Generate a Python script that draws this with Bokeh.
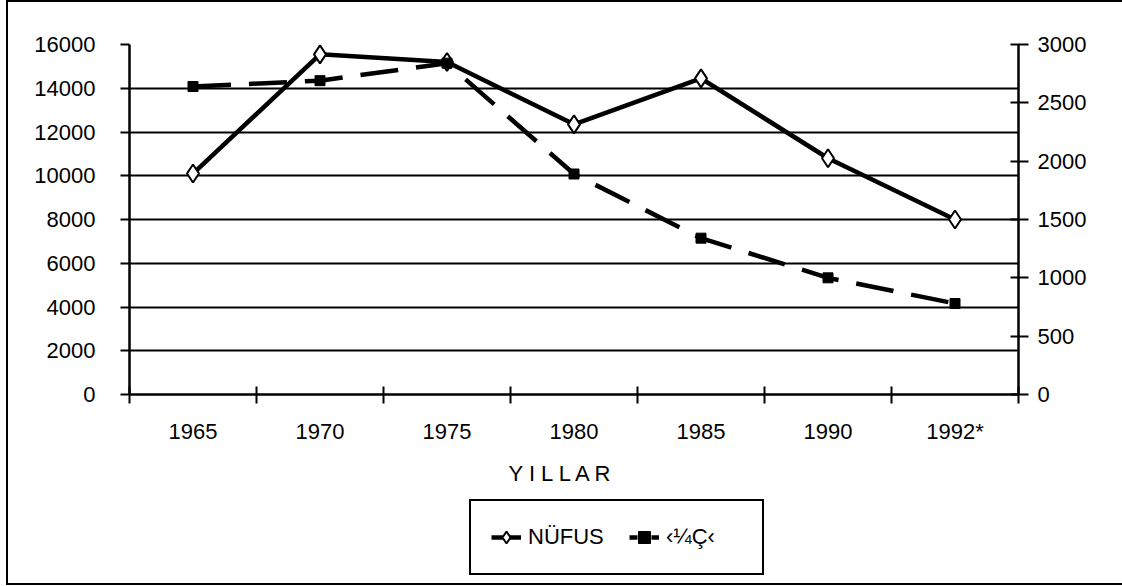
from bokeh.plotting import figure
from bokeh.layouts import column
from bokeh.models import (LinearAxis, Range1d, FixedTicker, Legend, LegendItem,
                          Title, Grid)
from bokeh.embed import file_html
from bokeh.resources import INLINE

# ---- data ----
years = ["1965", "1970", "1975", "1980", "1985", "1990", "1992*"]
nufus = [10100, 15550, 15200, 12350, 14450, 10800, 8000]
second = [2640, 2690, 2840, 1890, 1340, 1000, 780]
left_ticks = [0, 2000, 4000, 6000, 8000, 10000, 12000, 14000, 16000]
right_ticks = [0, 500, 1000, 1500, 2000, 2500, 3000]
x_title = "Y I L L A R"
series_labels = ["NÜFUS", "‹¼Ç‹"]

FONT = "Liberation Sans"
FS = "22px"

n = len(years)
xs = [i + 0.5 for i in range(n)]
bounds = list(range(n + 1))

p = figure(width=1122, height=498, output_backend="svg", toolbar_location=None,
           x_range=Range1d(0, n), y_range=Range1d(0, left_ticks[-1]),
           min_border_left=129, min_border_right=104, min_border_top=44,
           min_border_bottom=104, x_axis_type=None, y_axis_type=None)
p.extra_y_ranges = {"right": Range1d(0, right_ticks[-1])}
p.outline_line_color = None
p.background_fill_color = "white"
p.border_fill_color = "white"

# x axis: labels at category centres, tick marks at boundaries (minor ticks)
xaxis = LinearAxis(ticker=FixedTicker(ticks=xs, minor_ticks=bounds),
                   major_label_overrides={x: y for x, y in zip(xs, years)})
xaxis.major_tick_in = 0
xaxis.major_tick_out = 9
xaxis.major_tick_line_color = None
xaxis.minor_tick_in = 8
xaxis.minor_tick_out = 9
xaxis.minor_tick_line_width = 2
xaxis.minor_tick_line_color = "black"
xaxis.axis_line_width = 2.5
xaxis.axis_line_color = "black"
xaxis.major_label_standoff = 15
xaxis.major_label_text_font = FONT
xaxis.major_label_text_font_size = FS
xaxis.major_label_text_color = "black"
p.add_layout(xaxis, "below")

lticker = FixedTicker(ticks=left_ticks)
yaxis = LinearAxis(ticker=lticker)
yaxis.major_tick_in = 0
yaxis.major_tick_out = 9
yaxis.major_tick_line_width = 2
yaxis.major_tick_line_color = "black"
yaxis.axis_line_width = 2.5
yaxis.axis_line_color = "black"
yaxis.major_label_standoff = 25
yaxis.major_label_text_font = FONT
yaxis.major_label_text_font_size = FS
yaxis.major_label_text_color = "black"
p.add_layout(yaxis, "left")

raxis = LinearAxis(y_range_name="right", ticker=FixedTicker(ticks=right_ticks))
raxis.major_tick_in = 8
raxis.major_tick_out = 10
raxis.major_tick_line_width = 2
raxis.major_tick_line_color = "black"
raxis.axis_line_width = 2.5
raxis.axis_line_color = "black"
raxis.major_label_standoff = 9
raxis.major_label_text_font = FONT
raxis.major_label_text_font_size = FS
raxis.major_label_text_color = "black"
p.add_layout(raxis, "right")

p.add_layout(Grid(dimension=1, ticker=lticker, grid_line_color="black",
                  grid_line_width=2))

l1 = p.line(xs, nufus, line_color="black", line_width=4.5)
l2 = p.line(xs, second, y_range_name="right", line_color="black",
            line_width=4.5, line_dash="38 18")
s1 = p.scatter(xs, nufus, marker="diamond", size=18, fill_color="white",
               line_color="black", line_width=2)
s2 = p.scatter(xs, second, y_range_name="right", marker="square", size=10,
               fill_color="black", line_color="black")

p.add_layout(Title(text=x_title, align="left", offset=379, standoff=25,
                   text_font=FONT, text_font_size=FS, text_font_style="normal",
                   text_color="black"), "below")

# ---- legend strip (series repeated off-view, so only the legend shows) ----
q = figure(width=1122, height=88, output_backend="svg", toolbar_location=None,
           x_range=Range1d(-20, -19), y_range=Range1d(-20, -19), min_border=0,
           x_axis_type=None, y_axis_type=None)
q.outline_line_color = None
q.background_fill_color = "white"
q.border_fill_color = "white"
d1 = q.line(xs, nufus, line_color="black", line_width=4.5)
e1 = q.scatter(xs, nufus, marker="diamond", size=18, fill_color="white",
               line_color="black", line_width=2)
d2 = q.line(xs, second, line_color="black", line_width=4.5, line_dash="8 14")
e2 = q.scatter(xs, second, marker="square", size=10, fill_color="black",
               line_color="black")

legend = Legend(items=[LegendItem(label=series_labels[0], renderers=[d1, e1]),
                       LegendItem(label=series_labels[1], renderers=[d2, e2])],
                orientation="horizontal", location=(340, 11), margin=0,
                padding=20, spacing=25, glyph_width=30, glyph_height=32,
                label_standoff=7, label_width=76,
                label_text_font=FONT, label_text_font_size=FS,
                label_text_color="black",
                border_line_color="black", border_line_width=2,
                border_line_alpha=1,
                background_fill_color="white", background_fill_alpha=1)
q.add_layout(legend)

layout = column(p, q, spacing=0)
layout.stylesheets = [
    ":host { position: relative; }",
    ":host::after { content: ''; position: absolute; left: 6px; top: 0px; "
    "width: 1116px; height: 585px; border: 2.5px solid black; border-right: none; "
    "box-sizing: border-box; pointer-events: none; z-index: 10; }"
]

open("out.html", "w").write(file_html(layout, INLINE))
